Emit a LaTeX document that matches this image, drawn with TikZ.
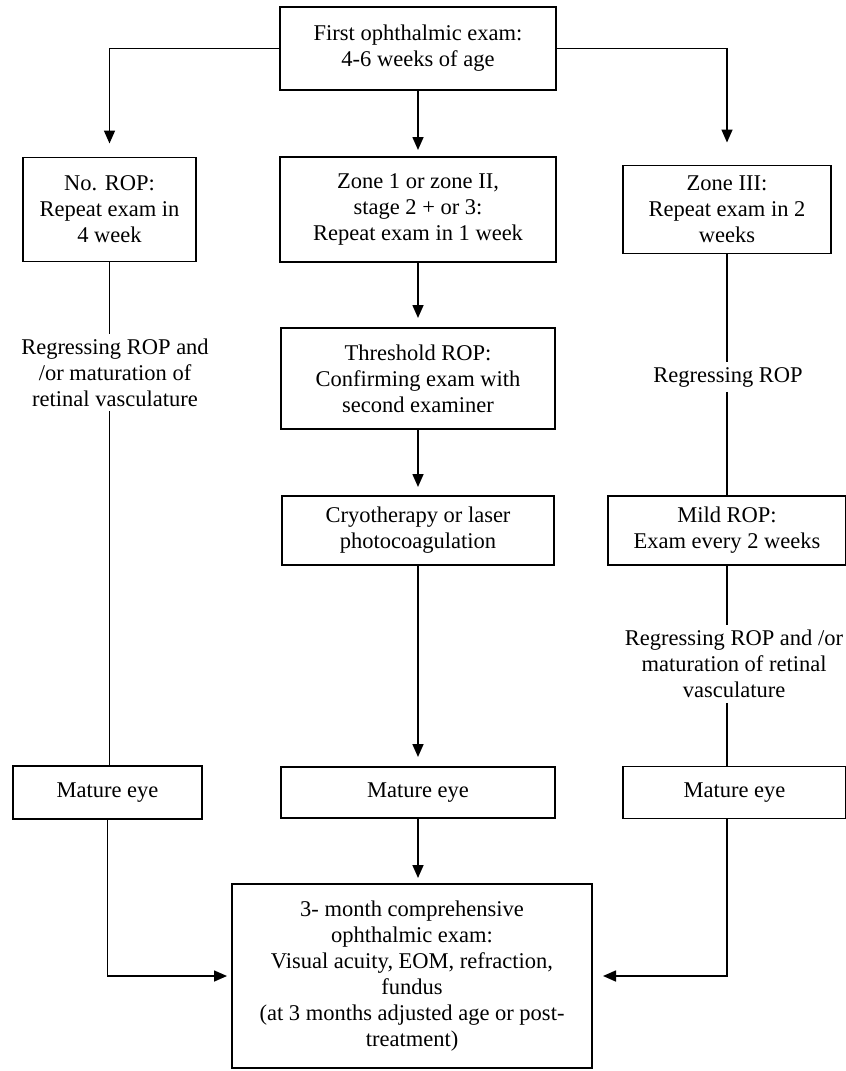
\documentclass[tikz,border=0pt]{standalone}
\usepackage{fontspec}
\setmainfont{Liberation Serif}
\usetikzlibrary{arrows.meta,positioning}
\tikzset{
  box/.style={draw, line width=1.7pt, align=center, inner sep=0pt, outer sep=0pt, font=\fontsize{22.5}{26}\selectfont},
  note/.style={align=center, inner sep=5pt, outer sep=0pt, font=\fontsize{22.5}{26}\selectfont},
  arrow/.style={-{Triangle[length=13pt,width=11pt]}, line width=1.6pt},
  link/.style={line width=1.6pt}
}

\begin{document}
\begin{tikzpicture}[x=1pt, y=1pt, node distance=67pt]
  \useasboundingbox (0,0) rectangle (846,-1071);
  \node[box, minimum width=276pt, minimum height=83pt] (first) at (418,-48.5) {First ophthalmic exam:\\4-6 weeks of age};
  \node[box, minimum width=276pt, minimum height=105pt, below=67pt of first] (zone12) {Zone 1 or zone II,\\stage 2 + or 3:\\Repeat exam in 1 week};
  \node[box, minimum width=173pt, minimum height=104pt, left=84pt of zone12] (norop) {No. ROP:\\Repeat exam in\\4 week};
  \node[box, minimum width=208pt, minimum height=88pt, right=67pt of zone12] (zone3) {Zone III:\\Repeat exam in 2\\weeks};
  \node[box, minimum width=274pt, minimum height=101pt, below=66pt of zone12] (thresh) {Threshold ROP:\\Confirming exam with\\second examiner};
  \node[box, minimum width=272pt, minimum height=69pt, below=67pt of thresh] (cryo) {Cryotherapy or laser\\photocoagulation};
  \node[box, minimum width=238pt, minimum height=69pt, right=54pt of cryo] (mild) {Mild ROP:\\Exam every 2 weeks};
  \node[box, minimum width=274pt, minimum height=51pt, below=202pt of cryo] (matM) {Mature eye};
  \node[box, minimum width=189pt, minimum height=53pt, left=79pt of matM] (matL) {Mature eye};
  \node[box, minimum width=223pt, minimum height=52pt, right=68pt of matM] (matR) {Mature eye};
  \node[box, minimum width=360pt, minimum height=184pt, below=66pt of matM, xshift=-6pt] (final) {3- month comprehensive\\ophthalmic exam:\\Visual acuity, EOM, refraction,\\fundus\\(at 3 months adjusted age or post-\\treatment)};
  \node[note] (regL) at (115,-372.5) {Regressing ROP and\\/or maturation of\\retinal vasculature};
  \node[note] (regR) at (728,-377) {Regressing ROP};
  \node[note] (regR2) at (734,-664) {Regressing ROP and /or\\maturation of retinal\\vasculature};

  \draw[arrow, shorten >=14pt] (first.west) -| (norop.north);
  \draw[arrow, shorten >=7pt] (first) -- (zone12);
  \draw[arrow, shorten >=23pt] (first.east) -| (zone3.north);
  \draw[arrow, shorten >=10pt] (zone12) -- (thresh);
  \draw[arrow, shorten >=9pt] (thresh) -- (cryo);
  \draw[arrow, shorten >=10pt] (cryo) -- (matM);
  \draw[arrow, shorten >=6pt] (matM.south) -- (matM.south |- final.north);
  \draw[link] (norop.south) -- (norop.south |- regL.north);
  \draw[link] (norop.south |- regL.south) -- (norop.south |- matL.north);
  \draw[link] (zone3.south) -- (zone3.south |- regR.north);
  \draw[link] (zone3.south |- regR.south) -- (zone3.south |- mild.north);
  \draw[link] (mild.south) -- (mild.south |- regR2.north);
  \draw[link] (mild.south |- regR2.south) -- (mild.south |- matR.north);
  \draw[arrow, shorten >=5pt] (matL.south) |- (final.west);
  \draw[arrow, shorten >=11pt] (mild.south |- matR.south) |- (final.east);
\end{tikzpicture}
\end{document}
